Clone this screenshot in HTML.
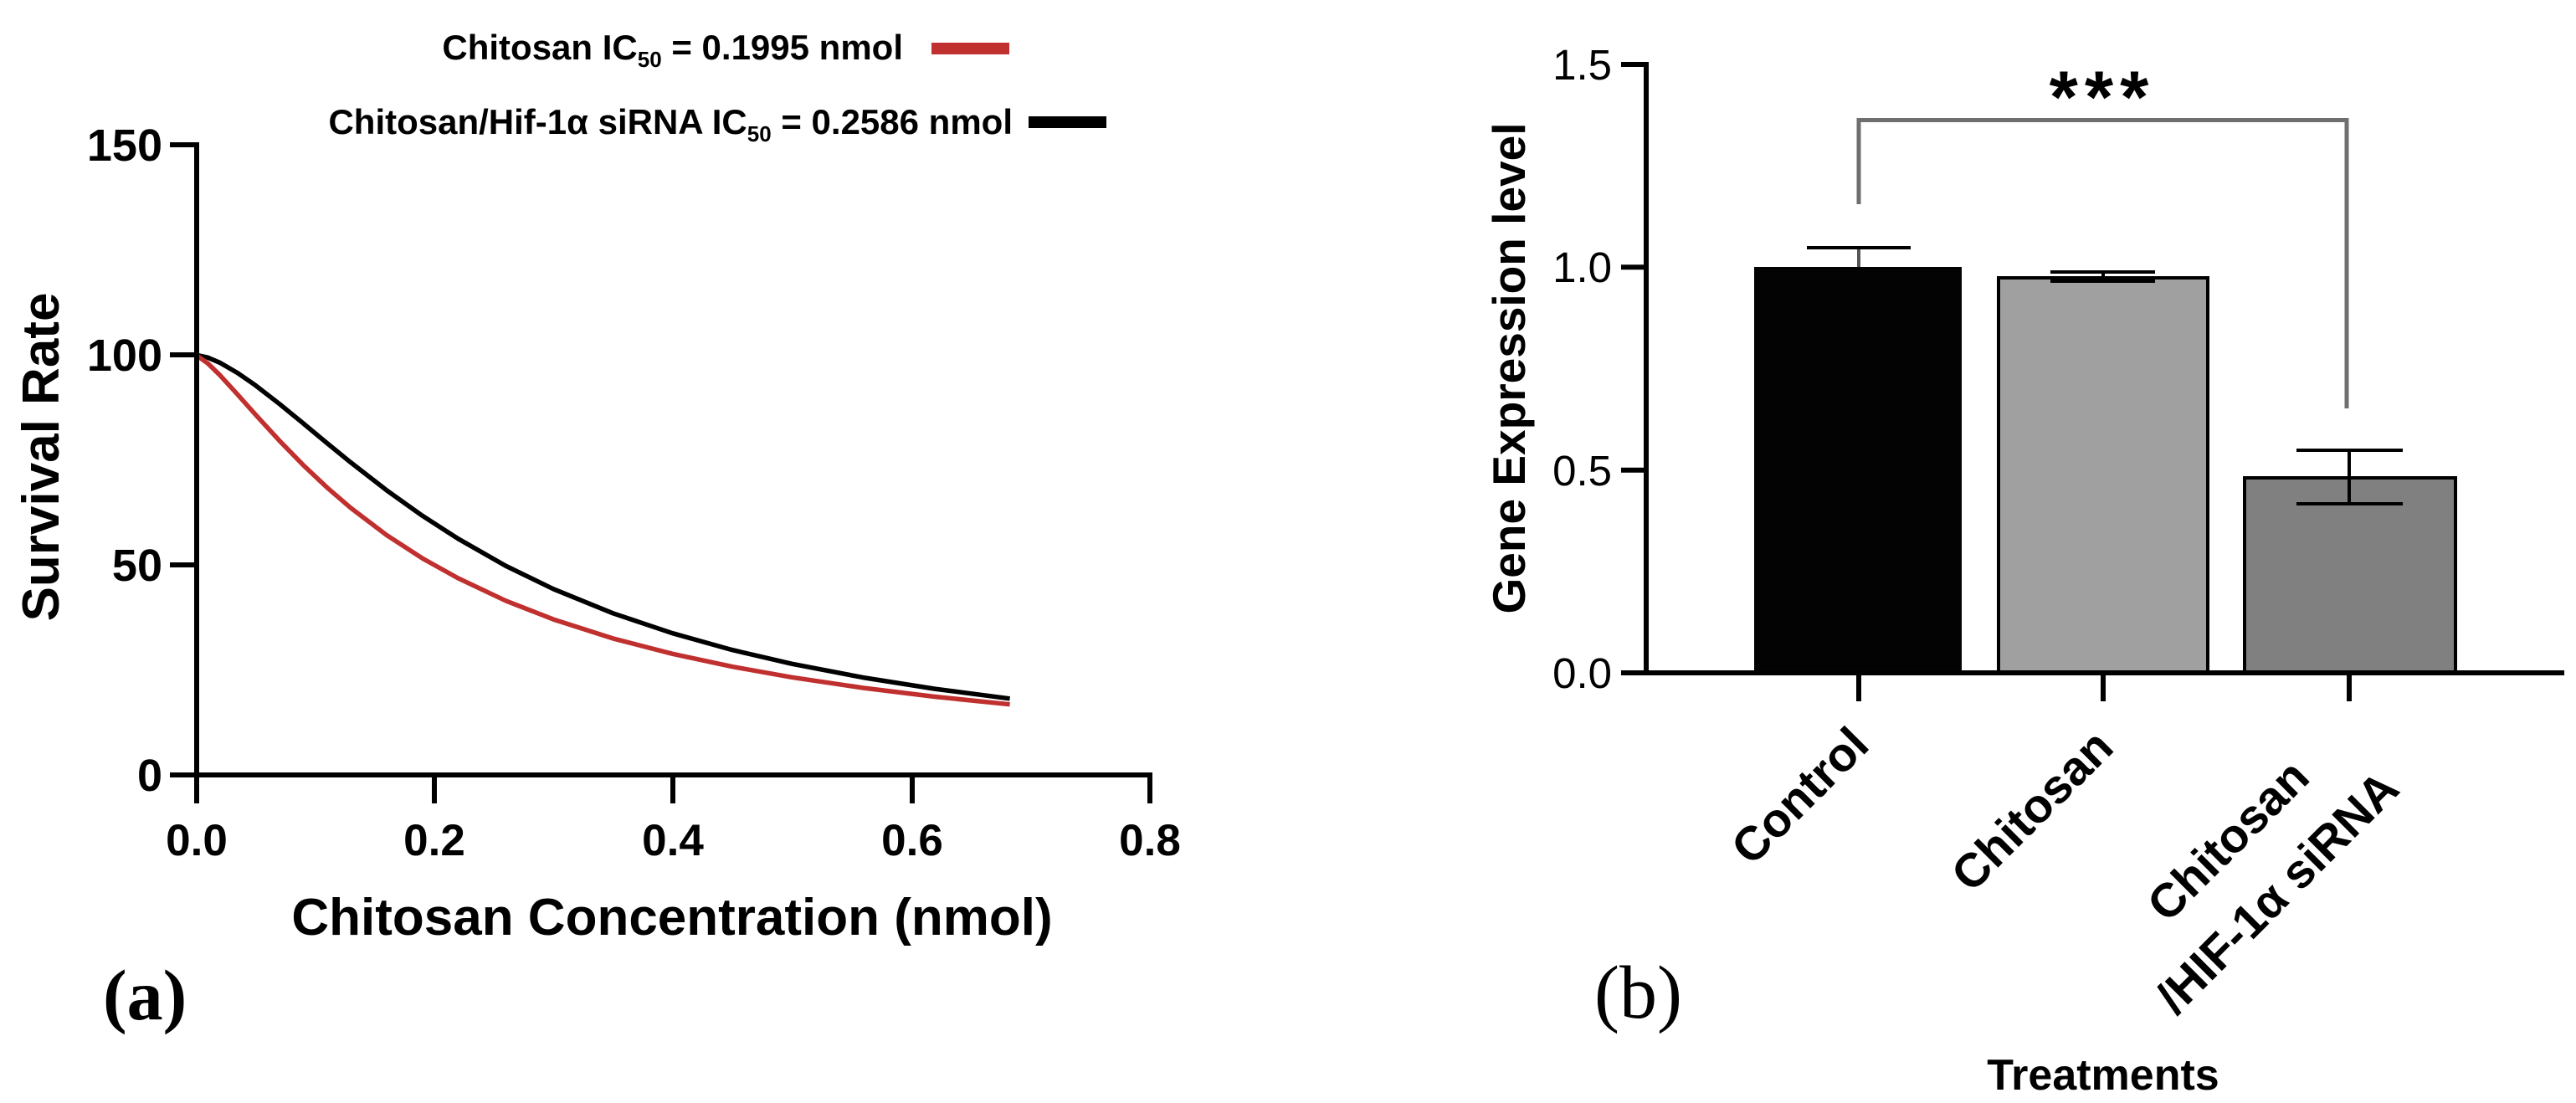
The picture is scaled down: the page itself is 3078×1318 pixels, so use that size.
<!DOCTYPE html>
<html>
<head>
<meta charset="utf-8">
<style>
  html, body { margin: 0; padding: 0; background: #ffffff; }
  svg { display: block; }
  text { font-family: "Liberation Sans", Arial, sans-serif; fill: #000; }
  .serif { font-family: "Liberation Serif", "Times New Roman", serif; }
</style>
</head>
<body>
<svg width="3078" height="1318" viewBox="0 0 3078 1318" xmlns="http://www.w3.org/2000/svg">
  <rect x="0" y="0" width="3078" height="1318" fill="#ffffff"/>

  <!-- ================= LEFT CHART (a) ================= -->
  <!-- Legend -->
  <text x="1079" y="71" font-size="42" font-weight="bold" text-anchor="end">Chitosan IC<tspan font-size="26" dy="9">50</tspan><tspan dy="-9"> = 0.1995 nmol</tspan></text>
  <line x1="1113" y1="58" x2="1206" y2="58" stroke="#c0302f" stroke-width="14"/>
  <text x="1210" y="160" font-size="42" font-weight="bold" text-anchor="end">Chitosan/Hif-1α siRNA IC<tspan font-size="26" dy="9">50</tspan><tspan dy="-9"> = 0.2586 nmol</tspan></text>
  <line x1="1229" y1="146" x2="1322" y2="146" stroke="#000" stroke-width="14"/>

  <!-- Curves -->
  <polyline fill="none" stroke="#000" stroke-width="5.5" stroke-linejoin="round" stroke-linecap="butt"
    points="234,424 248.2,427.2 262.5,433.3 283.8,445.6 305.2,460.4 333.7,482.5 362.2,505.8 390.6,529.4 419.1,552.6 461.8,585.7 504.6,616.2 547.3,643.7 604.2,676.1 661.2,703.8 732.4,732.8 803.6,756.7 874.8,776.6 946,793.2 1031.4,809.6 1116.9,823.1 1206.6,834.8"/>
  <polyline fill="none" stroke="#c0302f" stroke-width="5.5" stroke-linejoin="round" stroke-linecap="butt"
    points="234,424 248.2,434.1 262.5,448 283.8,471.3 305.2,495.3 333.7,526.4 362.2,555.6 390.6,582.4 419.1,606.9 461.8,639.3 504.6,667.1 547.3,690.9 604.2,717.8 661.2,740.1 732.4,762.9 803.6,781.3 874.8,796.6 946,809.3 1031.4,822 1116.9,832.5 1206.6,841.7"/>

  <!-- Axes -->
  <g stroke="#000" stroke-width="6" fill="none">
    <line x1="235" y1="170" x2="235" y2="960"/>
    <line x1="203" y1="926" x2="1377" y2="926"/>
    <line x1="203" y1="173" x2="235" y2="173"/>
    <line x1="203" y1="424" x2="235" y2="424"/>
    <line x1="203" y1="675" x2="235" y2="675"/>
    <line x1="519" y1="926" x2="519" y2="960"/>
    <line x1="804" y1="926" x2="804" y2="960"/>
    <line x1="1090" y1="926" x2="1090" y2="960"/>
    <line x1="1374" y1="926" x2="1374" y2="960"/>
  </g>

  <!-- Y tick labels -->
  <g font-size="54" font-weight="bold" text-anchor="end">
    <text x="194" y="192">150</text>
    <text x="194" y="443">100</text>
    <text x="194" y="694">50</text>
    <text x="194" y="945">0</text>
  </g>
  <!-- X tick labels -->
  <g font-size="53" font-weight="bold" text-anchor="middle">
    <text x="235" y="1022">0.0</text>
    <text x="519" y="1022">0.2</text>
    <text x="804" y="1022">0.4</text>
    <text x="1090" y="1022">0.6</text>
    <text x="1374" y="1022">0.8</text>
  </g>

  <text x="803" y="1117" font-size="62" font-weight="bold" text-anchor="middle">Chitosan Concentration (nmol)</text>
  <text transform="translate(70,546) rotate(-90)" font-size="62" font-weight="bold" text-anchor="middle">Survival Rate</text>

  <text class="serif" x="123" y="1218" font-size="86" font-weight="bold">(a)</text>

  <!-- ================= RIGHT CHART (b) ================= -->
  <!-- Bars -->
  <rect x="2096" y="319" width="248" height="485" fill="#030303"/>
  <rect x="2388" y="332" width="250" height="472" fill="#a0a0a1" stroke="#000" stroke-width="4"/>
  <rect x="2682" y="571" width="252" height="233" fill="#7f807f" stroke="#000" stroke-width="4"/>

  <!-- Error bars -->
  <g stroke="#000" stroke-width="4" fill="none">
    <line x1="2221" y1="296" x2="2221" y2="319" stroke="#555"/>
    <line x1="2159" y1="296" x2="2283" y2="296"/>
    <line x1="2513" y1="325" x2="2513" y2="336"/>
    <line x1="2450" y1="325" x2="2575" y2="325"/>
    <line x1="2450" y1="336" x2="2575" y2="336"/>
    <line x1="2807" y1="538" x2="2807" y2="602"/>
    <line x1="2744" y1="538" x2="2871" y2="538"/>
    <line x1="2744" y1="602" x2="2871" y2="602"/>
  </g>

  <!-- Significance bracket -->
  <polyline fill="none" stroke="#6f6f6f" stroke-width="5" points="2221,244 2221,143.5 2804,143.5 2804,488"/>
  <text x="2512" y="146" font-size="88" font-weight="bold" text-anchor="middle" letter-spacing="8">***</text>

  <!-- Axes -->
  <g stroke="#000" stroke-width="6" fill="none">
    <line x1="1967" y1="74" x2="1967" y2="807"/>
    <line x1="1937" y1="804" x2="3064" y2="804"/>
    <line x1="1937" y1="77" x2="1967" y2="77"/>
    <line x1="1937" y1="319.3" x2="1967" y2="319.3"/>
    <line x1="1937" y1="561.7" x2="1967" y2="561.7"/>
    <line x1="2221" y1="804" x2="2221" y2="838"/>
    <line x1="2513" y1="804" x2="2513" y2="838"/>
    <line x1="2807" y1="804" x2="2807" y2="838"/>
  </g>

  <!-- Y tick labels -->
  <g font-size="51" text-anchor="end">
    <text x="1926" y="95">1.5</text>
    <text x="1926" y="337">1.0</text>
    <text x="1926" y="580">0.5</text>
    <text x="1926" y="822">0.0</text>
  </g>

  <text transform="translate(1822,440) rotate(-90)" font-size="55" font-weight="bold" text-anchor="middle">Gene Expression level</text>

  <!-- Category labels -->
  <g font-size="57" font-weight="bold">
    <text transform="translate(2236,893) rotate(-45)" text-anchor="end">Control</text>
    <text transform="translate(2528,896) rotate(-45)" text-anchor="end">Chitosan</text>
    <text transform="translate(2676,1018) rotate(-45)" text-anchor="middle">Chitosan</text>
    <text transform="translate(2735,1080) rotate(-45)" text-anchor="middle">/HIF-1α siRNA</text>
  </g>

  <text x="2513" y="1302" font-size="52" font-weight="bold" text-anchor="middle">Treatments</text>

  <text class="serif" x="1905" y="1216" font-size="90">(b)</text>
</svg>
</body>
</html>
